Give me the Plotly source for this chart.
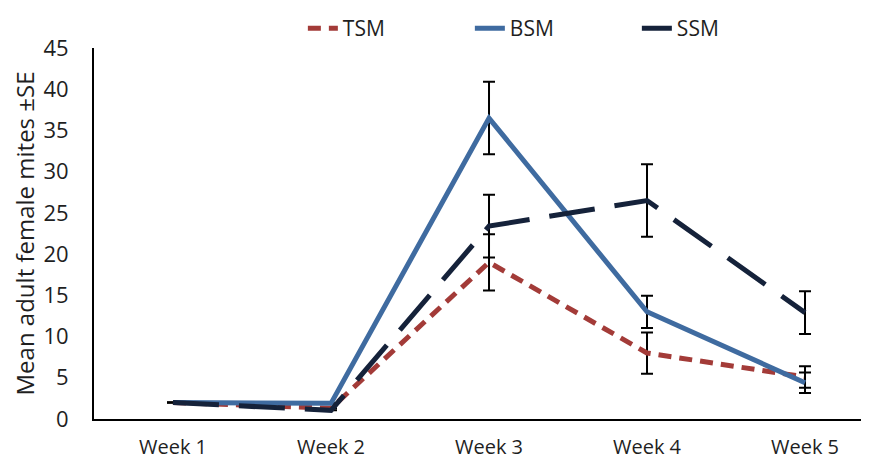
import plotly.graph_objects as go

weeks = ["Week 1", "Week 2", "Week 3", "Week 4", "Week 5"]
tsm = [2.0, 1.3, 19.0, 8.0, 5.1]
tsm_se = [None, None, 3.4, 2.5, 1.3]
bsm = [2.0, 1.9, 36.5, 13.0, 4.4]
bsm_se = [None, None, 4.4, 1.95, 1.25]
ssm = [2.0, 1.05, 23.4, 26.5, 12.9]
ssm_se = [None, None, 3.8, 4.4, 2.6]
y_ticks = [0, 5, 10, 15, 20, 25, 30, 35, 40, 45]

FONT = "Open Sans"
TXT = "#1f1f1f"
fig = go.Figure()

def err(arr):
    return dict(type="data", array=arr, visible=True, color="black",
                thickness=2, width=6)

fig.add_trace(go.Scatter(x=weeks, y=tsm, name="TSM", mode="lines",
                         line=dict(color="#A33B38", width=5, dash="13px,8px"),
                         error_y=err(tsm_se)))
fig.add_trace(go.Scatter(x=weeks, y=bsm, name="BSM", mode="lines",
                         line=dict(color="#3F6BA0", width=5),
                         error_y=err(bsm_se)))
fig.add_trace(go.Scatter(x=weeks, y=ssm, name="SSM", mode="lines",
                         line=dict(color="#15223A", width=5, dash="46px,20px"),
                         error_y=err(ssm_se)))

# page body has an 8px default margin, so the figure is sized to fit the window
fig.update_layout(
    width=861, height=452,
    margin=dict(l=86, r=0, t=30, b=41),
    plot_bgcolor="white", paper_bgcolor="white",
    font=dict(family=FONT, size=22, color=TXT),
    showlegend=True,
    legend=dict(orientation="h", x=0.2695, xanchor="left", y=0.998, yanchor="bottom",
                entrywidth=122, entrywidthmode="pixels",
                font=dict(family=FONT, size=21, color=TXT),
                bgcolor="rgba(0,0,0,0)", traceorder="normal"),
    xaxis=dict(range=[-0.5, 4.405], showgrid=False, zeroline=False,
               showline=True, linecolor="black", linewidth=2,
               ticks="", ticklabelstandoff=9, automargin=False,
               tickfont=dict(family=FONT, size=20, color=TXT)),
    yaxis=dict(range=[0, 45], tickvals=y_ticks, showgrid=False, zeroline=False,
               showline=True, linecolor="black", linewidth=2,
               ticks="", ticklabelstandoff=19, automargin=False,
               tickfont=dict(family=FONT, size=22, color=TXT),
               title=dict(text="Mean adult female mites ±SE", standoff=10,
                          font=dict(family=FONT, size=24, color=TXT))),
)

fig.write_html("out.html")
